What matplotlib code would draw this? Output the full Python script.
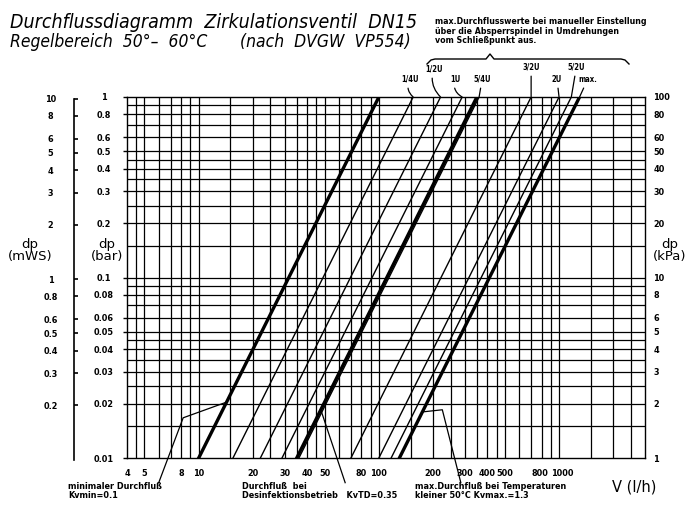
import numpy as np
import matplotlib
matplotlib.use('Agg')
import matplotlib.pyplot as plt
from matplotlib.ticker import FixedLocator, NullLocator, FuncFormatter
from matplotlib.transforms import ScaledTranslation

# Einstellkurven (V in l/h bei dp=0.01 bar und dp=1 bar)
thin_labels = ['1/4U', '1/2U', '1U', '5/4U', '3/2U', '2U', '5/2U']
thin_v_bottom = [15.5, 22, 29, 36, 70, 100, 117]
thin_v_top = [155, 220, 290, 360, 700, 1000, 1170]
# dicke Linien: Kvmin, KvTD, Kvmax
thick_v_bottom = [10, 35, 130]
thick_v_top = [100, 350, 1300]
dp_ends = [0.01, 1.0]

x_ticks = [4, 5, 8, 10, 20, 30, 40, 50, 80, 100, 200, 300, 400, 500, 800, 1000]
bar_ticks = [1, 0.8, 0.6, 0.5, 0.4, 0.3, 0.2, 0.1, 0.08, 0.06, 0.05, 0.04,
             0.03, 0.02, 0.01]
mws_ticks = [10, 8, 6, 5, 4, 3, 2, 1, 0.8, 0.6, 0.5, 0.4, 0.3, 0.2, 0.1]
kpa_ticks = [100, 80, 60, 50, 40, 30, 20, 10, 8, 6, 5, 4, 3, 2, 1]
grid_steps = [1, 1.5, 2, 2.5, 3, 3.5, 4, 4.5, 5, 6, 7, 8, 9]

sfont = 'DejaVu Sans'
small = dict(family=sfont, fontsize=6.5, fontweight='bold',
             fontstretch='condensed')

W, H = 696, 513
fig = plt.figure(figsize=(W / 100, H / 100), dpi=100)
fig.patch.set_facecolor('white')


def fx(px):
    return px / W


def fy(py):
    return 1 - py / H


def style_labels(labels, size):
    for lab in labels:
        lab.set_fontfamily(sfont)
        lab.set_fontsize(size)
        lab.set_fontweight('bold')
        lab.set_fontstretch('condensed')


left, right, top, bottom = 127, 645, 97, 458
ax = fig.add_axes([fx(left), fy(bottom), fx(right - left), (bottom - top) / H])
ax.set_xscale('log')
ax.set_yscale('log')
ax.set_xlim(4, 3000)
ax.set_ylim(0.01, 1)

# Gitter
for dec in [0.01, 0.1, 1, 10, 100, 1000]:
    for s in grid_steps:
        v = dec * s
        if 4 < v < 3000:
            ax.axvline(v, color='black', lw=0.9, zorder=1)
        if 0.01 < v < 1 and dec < 1:
            ax.axhline(v, color='black', lw=0.9, zorder=1)
for sp in ax.spines.values():
    sp.set_linewidth(1.0)

# Kennlinien
for vb, vt in zip(thin_v_bottom, thin_v_top):
    ax.plot([vb, vt], dp_ends, color='black', lw=1.0, zorder=3)
for vb, vt in zip(thick_v_bottom, thick_v_top):
    ax.plot([vb, vt], dp_ends, color='black', lw=2.4, zorder=4)

# Achsen
fmt = FuncFormatter(lambda v, p: f'{v:g}')
ax.xaxis.set_major_locator(FixedLocator(x_ticks))
ax.xaxis.set_minor_locator(NullLocator())
ax.xaxis.set_major_formatter(fmt)
ax.tick_params(axis='x', length=0, pad=8)
ax.yaxis.set_major_locator(FixedLocator(bar_ticks))
ax.yaxis.set_minor_locator(NullLocator())
ax.yaxis.set_major_formatter(fmt)
ax.tick_params(axis='y', length=3, width=1, pad=14)
style_labels(ax.get_xticklabels(), 6.5)
style_labels(ax.get_yticklabels(), 6.5)
for lab in ax.get_yticklabels():
    lab.set_horizontalalignment('center')
# 800 und 1000 stehen dicht beieinander
xlabs = ax.get_xticklabels()
for lab, shift in [(xlabs[-2], -2), (xlabs[-1], 3)]:
    lab.set_transform(lab.get_transform()
                      + ScaledTranslation(shift / 100, 0, fig.dpi_scale_trans))

axr = ax.twinx()
axr.set_yscale('log')
axr.set_ylim(1, 100)
axr.yaxis.set_major_locator(FixedLocator(kpa_ticks))
axr.yaxis.set_minor_locator(NullLocator())
axr.yaxis.set_major_formatter(fmt)
axr.tick_params(axis='y', length=0, pad=6)
style_labels(axr.get_yticklabels(), 6.5)
for sp in axr.spines.values():
    sp.set_visible(False)

# mWS-Skala
axm = fig.add_axes([fx(74), fy(bottom), 0.001, (bottom - top) / H])
axm.set_yscale('log')
axm.set_ylim(0.01 / 0.0981, 1 / 0.0981)
axm.set_xticks([])
for k in ['right', 'top', 'bottom']:
    axm.spines[k].set_visible(False)
axm.spines['left'].set_bounds(0.1, 10)
axm.spines['left'].set_linewidth(1.2)
axm.patch.set_visible(False)
axm.yaxis.set_major_locator(FixedLocator(mws_ticks))
axm.yaxis.set_minor_locator(NullLocator())
axm.yaxis.set_major_formatter(fmt)
axm.tick_params(axis='y', direction='in', length=3, width=1.2, pad=17)
style_labels(axm.get_yticklabels(), 6.5)
for lab in axm.get_yticklabels():
    lab.set_horizontalalignment('center')

# Achsentitel
fig.text(fx(30), fy(251), 'dp\n(mWS)', ha='center', va='center', fontsize=9.5,
         linespacing=0.9)
fig.text(fx(107), fy(251), 'dp\n(bar)', ha='center', va='center', fontsize=9.5,
         linespacing=0.9)
fig.text(fx(670), fy(251), 'dp\n(kPa)', ha='center', va='center', fontsize=9.5,
         linespacing=0.9)
fig.text(fx(634), fy(487), 'V (l/h)', ha='center', va='center', fontsize=10.5)

# Titel
fig.text(fx(10), fy(28), 'Durchflussdiagramm  Zirkulationsventil  DN15',
         fontsize=14, style='italic', fontstretch='condensed', va='baseline')
fig.text(fx(10), fy(47), 'Regelbereich  50°–  60°C', fontsize=12.5,
         style='italic', fontstretch='condensed', va='baseline')
fig.text(fx(240), fy(47), '(nach  DVGW  VP554)', fontsize=12.5,
         style='italic', fontstretch='condensed', va='baseline')
fig.text(fx(435), fy(17), 'max.Durchflusswerte bei manueller Einstellung\n'
         'über die Absperrspindel in Umdrehungen\nvom Schließpunkt aus.',
         va='top', ha='left', linespacing=1.1, family=sfont, fontsize=6.3,
         fontweight='bold', fontstretch='condensed')

# geschweifte Klammer
bx = [427, 431, 435, 486, 490, 494, 621, 625, 629]
by = [64, 60, 59, 59, 54, 59, 59, 60, 64]
fig.add_artist(plt.Line2D([fx(v) for v in bx], [fy(v) for v in by],
                          color='black', lw=1.0))

# Beschriftung der Einstellkurven
offsets = [(-3, 13, 0.4), (-7, 23, 0.3), (-7, 13, 0.4), (3, 13, 0.0),
           (0, 25, 0.0), (-2, 13, 0.0), (5, 25, 0.0)]
for lab, vt, (dx, dy, rad) in zip(thin_labels, thin_v_top, offsets):
    ax.annotate(lab, xy=(vt, 1), xytext=(dx, dy), textcoords='offset pixels',
                ha='center', va='bottom', annotation_clip=False,
                arrowprops=dict(arrowstyle='-', lw=0.9, shrinkA=1, shrinkB=0,
                                connectionstyle=f'arc3,rad={rad}'),
                family=sfont, fontsize=5.5, fontweight='bold',
                fontstretch='condensed')
ax.annotate('max.', xy=(thick_v_top[2], 1), xytext=(8, 13),
            textcoords='offset pixels', ha='center', va='bottom',
            annotation_clip=False,
            arrowprops=dict(arrowstyle='-', lw=0.9, shrinkA=1, shrinkB=0),
            family=sfont, fontsize=5.5, fontweight='bold',
            fontstretch='condensed')

# Hinweise unten
dp_hit = [0.0204, 0.0185, 0.018]
lead_start = [(6.0, 0.0073), (65, 0.0073), (285, 0.0073)]
lead_bend = [(8.2, 0.0167), None, (225, 0.0185)]
for vt, dph, st, bd in zip(thick_v_top, dp_hit, lead_start, lead_bend):
    pts = [st] + ([bd] if bd else []) + [(vt * np.sqrt(dph), dph)]
    ax.plot([p[0] for p in pts], [p[1] for p in pts], color='black', lw=0.9,
            clip_on=False, zorder=5)

fig.text(fx(68), fy(482), 'minimaler Durchfluß\nKvmin=0.1', va='top',
         linespacing=1.05, **small)
fig.text(fx(242), fy(482), 'Durchfluß  bei\nDesinfektionsbetrieb   KvTD=0.35',
         va='top', linespacing=1.05, **small)
fig.text(fx(415), fy(482), 'max.Durchfluß bei Temperaturen\n'
         'kleiner 50°C Kvmax.=1.3', va='top', linespacing=1.05, **small)

fig.savefig('out.png', dpi=100, facecolor='white')
